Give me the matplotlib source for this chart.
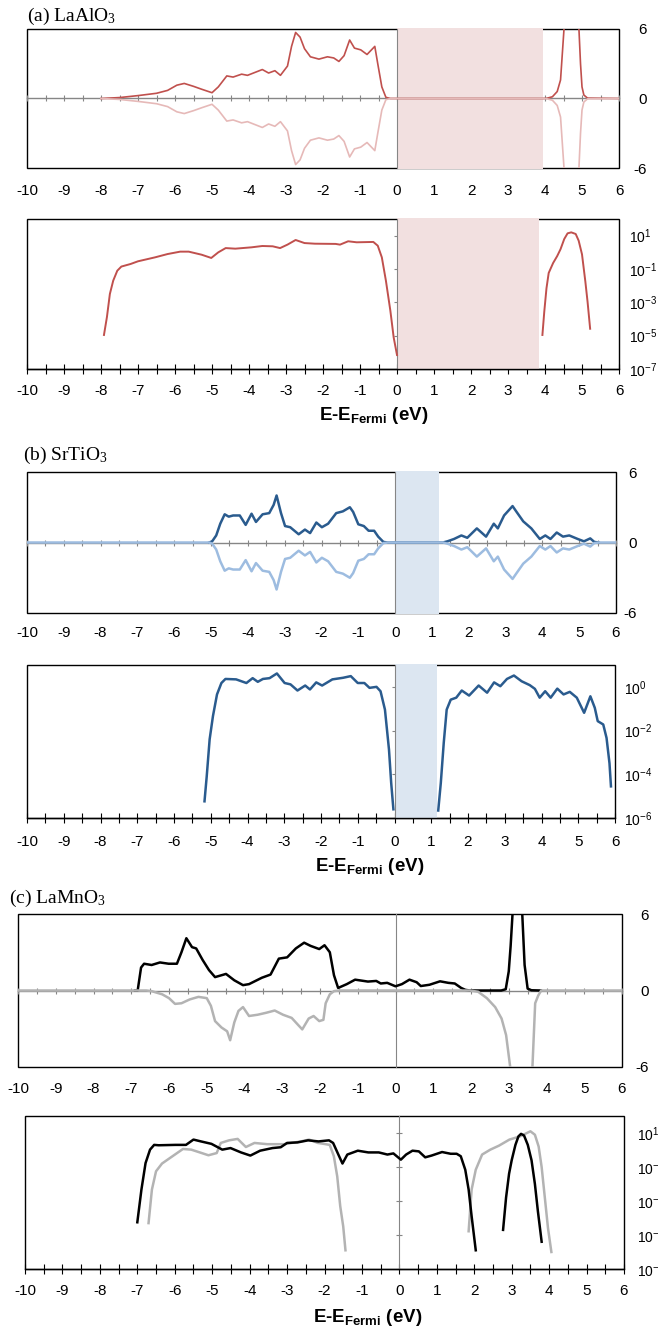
import matplotlib
matplotlib.use('Agg')
import matplotlib.pyplot as plt
from matplotlib.ticker import MultipleLocator, NullLocator
from matplotlib.patches import Rectangle

plt.rcParams['font.family'] = ['Liberation Sans', 'DejaVu Sans']
plt.rcParams['axes.unicode_minus'] = False
plt.rcParams['mathtext.default'] = 'regular'

# ---------------- data ----------------
xtick_vals = [-10, -9, -8, -7, -6, -5, -4, -3, -2, -1, 0, 1, 2, 3, 4, 5, 6]
xtick_labels = ['-10', '-9', '-8', '-7', '-6', '-5', '-4', '-3', '-2', '-1',
                '0', '1', '2', '3', '4', '5', '6']
lin_yticks = [-6, 0, 6]
lin_ylabels = ['-6', '0', '6']
log_yticks_a = [1e1, 1e-1, 1e-3, 1e-5, 1e-7]
log_ylabels_a = [r'$10^{1}$', r'$10^{-1}$', r'$10^{-3}$', r'$10^{-5}$', r'$10^{-7}$']
log_yticks_b = [1e0, 1e-2, 1e-4, 1e-6]
log_ylabels_b = [r'$10^{0}$', r'$10^{-2}$', r'$10^{-4}$', r'$10^{-6}$']

# (a) LaAlO3 linear
la_E = [-8.0, -7.5, -7.0, -6.5, -6.2, -5.95, -5.75, -5.5, -5.28, -5.0,
        -4.83, -4.6, -4.43, -4.2, -4.04, -3.8, -3.64, -3.47, -3.3, -3.15,
        -2.96, -2.85, -2.74, -2.62, -2.5, -2.34, -2.11, -1.88, -1.71, -1.57,
        -1.43, -1.28, -1.15, -0.98, -0.81, -0.6, -0.52, -0.41, -0.3, -0.18,
        0.0, 3.95, 4.05, 4.2, 4.33, 4.42, 4.52, 4.61, 4.71, 4.83,
        4.91, 4.96, 5.0, 5.05, 5.15, 6.0]
la_up = [0.0, 0.08, 0.25, 0.45, 0.7, 1.15, 1.3, 1.05, 0.8, 0.5,
         1.0, 1.95, 1.85, 2.1, 2.0, 2.3, 2.5, 2.2, 2.4, 2.0,
         2.8, 4.5, 5.7, 5.3, 4.3, 3.6, 3.4, 3.6, 3.5, 3.2,
         3.7, 5.05, 4.35, 4.2, 3.8, 4.5, 3.0, 1.0, 0.1, 0.0,
         0.0, 0.0, 0.02, 0.15, 0.6, 1.6, 6.3, 13.8, 15.8, 12.6,
         6.5, 3.0, 1.0, 0.3, 0.03, 0.0]
la_dn = [-0.0, -0.08, -0.25, -0.45, -0.7, -1.15, -1.3, -1.05, -0.8, -0.5,
         -1.0, -1.95, -1.85, -2.1, -2.0, -2.3, -2.5, -2.2, -2.4, -2.0,
         -2.8, -4.5, -5.7, -5.3, -4.3, -3.6, -3.4, -3.6, -3.5, -3.2,
         -3.7, -5.05, -4.35, -4.2, -3.8, -4.5, -3.0, -1.0, -0.1, -0.0,
         -0.0, -0.0, -0.02, -0.15, -0.6, -1.6, -6.3, -13.8, -15.8, -12.6,
         -6.5, -3.0, -1.0, -0.3, -0.03, -0.0]
la_gap = [0.0, 3.95]

# (a) LaAlO3 log
la_log1_E = [-7.92, -7.84, -7.76, -7.67, -7.56, -7.45, -7.2, -7.0, -6.54, -6.2,
             -5.86, -5.63, -5.28, -5.02, -4.83, -4.63, -4.37, -3.93, -3.64, -3.36,
             -3.16, -2.96, -2.74, -2.5, -2.22, -1.66, -1.54, -1.32, -1.09, -0.64,
             -0.52, -0.41, -0.3, -0.18, -0.09, 0.0]
la_log1_v = [1.1e-5, 1.3e-4, 3.2e-3, 0.02, 0.079, 0.14, 0.2, 0.29, 0.5, 0.79,
             1.1, 1.1, 0.72, 0.46, 1.0, 1.8, 1.66, 2.0, 2.4, 2.3,
             1.8, 2.9, 5.5, 3.6, 3.3, 3.2, 2.9, 4.6, 4.0, 4.2,
             2.5, 0.5, 0.02, 3.2e-4, 7.9e-6, 6.9e-7]
la_log2_E = [3.93, 3.98, 4.04, 4.1, 4.22, 4.33, 4.42, 4.52, 4.61, 4.71,
             4.83, 4.91, 5.0, 5.09, 5.15, 5.22]
la_log2_v = [1.1e-5, 2.7e-4, 7e-3, 0.058, 0.23, 0.6, 1.55, 6.3, 13.8, 15.8,
             12.6, 5.0, 0.76, 0.018, 1.1e-3, 2.6e-5]
la_log_gap = [0.0, 3.84]

# (b) SrTiO3 linear
st_up_E = [-5.05, -4.97, -4.86, -4.75, -4.63, -4.52, -4.4, -4.22, -4.06, -3.9,
           -3.78, -3.6, -3.42, -3.3, -3.22, -3.1, -2.99, -2.85, -2.62, -2.45,
           -2.31, -2.14, -1.99, -1.82, -1.6, -1.42, -1.23, -1.14, -1.0, -0.85,
           -0.72, -0.57, -0.46, -0.32, -0.2, 1.3, 1.42, 1.6, 1.8, 1.96,
           2.22, 2.47, 2.68, 2.79, 2.96, 3.19, 3.3, 3.48, 3.7, 3.93,
           4.08, 4.22, 4.39, 4.56, 4.73, 4.96, 5.13, 5.3, 5.41, 5.53]
st_up = [0, 0.1, 0.6, 1.6, 2.4, 2.2, 2.3, 2.3, 1.5, 2.45,
         1.75, 2.4, 2.5, 3.2, 4.0, 2.5, 1.4, 1.3, 0.7, 1.1,
         0.8, 1.7, 1.3, 1.6, 2.5, 2.65, 3.0, 2.6, 1.55, 1.4,
         1.0, 1.0, 0.5, 0.05, 0, 0, 0.1, 0.3, 0.6, 0.4,
         1.2, 0.5, 1.6, 1.2, 2.3, 3.1, 2.6, 1.8, 1.2, 0.3,
         0.6, 0.3, 0.85, 0.5, 0.6, 0.3, 0.1, 0.35, 0.05, 0]
st_dn_E = [-10.0, -5.05, -4.97, -4.86, -4.75, -4.63, -4.52, -4.4, -4.22, -4.06, -3.9,
           -3.78, -3.6, -3.42, -3.3, -3.22, -3.1, -2.99, -2.85, -2.62, -2.45,
           -2.31, -2.14, -1.99, -1.82, -1.6, -1.42, -1.23, -1.14, -1.0, -0.85,
           -0.72, -0.57, -0.46, -0.32, -0.2, 1.3, 1.42, 1.6, 1.8, 1.96,
           2.22, 2.47, 2.68, 2.79, 2.96, 3.19, 3.3, 3.48, 3.7, 3.93,
           4.08, 4.22, 4.39, 4.56, 4.73, 4.96, 5.13, 5.3, 5.41, 5.53, 6.0]
st_dn = [0, 0, -0.1, -0.6, -1.6, -2.4, -2.2, -2.3, -2.3, -1.5, -2.45,
         -1.75, -2.4, -2.5, -3.2, -4.0, -2.5, -1.4, -1.3, -0.7, -1.1,
         -0.8, -1.7, -1.3, -1.6, -2.5, -2.65, -3.0, -2.6, -1.55, -1.4,
         -1.0, -1.0, -0.5, -0.05, 0, 0, -0.1, -0.3, -0.6, -0.4,
         -1.2, -0.5, -1.6, -1.2, -2.3, -3.1, -2.6, -1.8, -1.2, -0.3,
         -0.6, -0.3, -0.85, -0.5, -0.6, -0.3, -0.1, -0.35, -0.05, 0, 0]
st_gap = [0.0, 1.19]

# (b) SrTiO3 log
st_log1_E = [-5.17, -5.11, -5.03, -4.94, -4.83, -4.71, -4.6, -4.31, -4.03, -3.86,
             -3.72, -3.58, -3.4, -3.2, -2.99, -2.83, -2.64, -2.43, -2.3, -2.13,
             -1.97, -1.69, -1.4, -1.19, -1.0, -0.82, -0.68, -0.49, -0.38, -0.26,
             -0.15, -0.09, -0.03]
st_log1_v = [5.8e-6, 7.9e-5, 4e-3, 0.046, 0.45, 1.5, 2.3, 2.2, 1.5, 2.5,
             1.7, 2.3, 2.5, 4.1, 1.5, 1.3, 0.68, 1.15, 0.76, 1.6,
             1.15, 2.2, 2.6, 3.1, 1.5, 1.5, 0.9, 1.0, 0.63, 0.091,
             1.35e-3, 4e-5, 2.5e-6]
st_log2_E = [1.19, 1.26, 1.34, 1.42, 1.53, 1.68, 1.83, 2.03, 2.29, 2.52,
             2.71, 2.88, 3.06, 3.25, 3.46, 3.68, 3.82, 3.95, 4.1, 4.25,
             4.43, 4.6, 4.77, 4.96, 5.16, 5.33, 5.45, 5.53, 5.68, 5.77,
             5.85, 5.89]
st_log2_v = [2.2e-6, 4e-5, 2.75e-3, 0.091, 0.26, 0.32, 0.68, 0.4, 1.15, 0.54,
             1.6, 1.07, 2.3, 3.3, 1.8, 1.2, 0.81, 0.32, 0.63, 0.32,
             0.83, 0.45, 0.59, 0.32, 0.065, 0.37, 0.11, 0.027, 0.019, 4.6e-3,
             3.2e-4, 2.8e-5]
st_log_gap = [0.0, 1.15]

# (c) LaMnO3 linear
lm_up_E = [-6.9, -6.83, -6.74, -6.66, -6.46, -6.24, -6.01, -5.79, -5.67, -5.54,
           -5.39, -5.28, -5.11, -4.94, -4.78, -4.49, -4.27, -4.04, -3.88, -3.54,
           -3.31, -3.09, -2.87, -2.64, -2.42, -2.25, -2.02, -1.88, -1.74, -1.63,
           -1.52, -1.29, -1.07, -0.73, -0.51, -0.39, -0.22, 0.0, 0.17, 0.37,
           0.56, 0.67, 0.9, 1.18, 1.4, 1.57, 1.74, 1.85, 1.97, 2.8,
           2.92, 3.0, 3.05, 3.11, 3.2, 3.28, 3.35, 3.42, 3.5, 3.6, 3.85]
lm_up = [0, 0, 1.8, 2.1, 2.0, 2.2, 2.1, 2.1, 3.0, 4.1,
         3.4, 3.3, 2.4, 1.6, 1.05, 1.3, 0.8, 0.42, 0.5, 1.0,
         1.25, 2.5, 2.6, 3.3, 3.75, 3.5, 3.25, 3.55, 3.0, 1.2,
         0.2, 0.5, 0.85, 0.7, 0.75, 0.55, 0.6, 0.33, 0.5, 0.85,
         0.65, 0.35, 0.45, 0.72, 0.6, 0.55, 0.2, 0.05, 0, 0,
         0.1, 1.5, 3.5, 6.5, 10.0, 10.5, 6.5, 2.0, 0.15, 0.02, 0]
lm_dn_E = [-10.0, -6.6, -6.46, -6.18, -6.0, -5.84, -5.67, -5.45, -5.22, -5.0,
           -4.89, -4.78, -4.61, -4.46, -4.38, -4.27, -4.16, -4.04, -3.88, -3.65,
           -3.43, -3.2, -2.98, -2.75, -2.58, -2.47, -2.3, -2.17, -2.02, -1.91,
           -1.85, -1.74, -1.63, -1.5, 1.97, 2.19, 2.42, 2.64, 2.81, 2.93,
           3.06, 3.2, 3.4, 3.55, 3.62, 3.7, 3.78, 3.86, 6.0]
lm_dn = [0, 0, -0.05, -0.3, -0.6, -1.05, -1.0, -0.7, -0.5, -0.6,
         -1.2, -2.4, -2.9, -3.2, -3.9, -2.5, -1.6, -1.3, -2.0, -1.9,
         -1.75, -1.57, -1.9, -2.15, -2.7, -3.05, -2.2, -2.0, -2.4, -2.3,
         -1.0, -0.3, -0.05, 0, 0, -0.1, -0.6, -1.3, -2.2, -3.5,
         -6.5, -10.0, -12.0, -10.0, -6.5, -1.0, -0.4, 0, 0]

# (c) LaMnO3 log
lm_up_log1_E = [-7.0, -6.89, -6.78, -6.66, -6.55, -6.43, -5.98, -5.7, -5.5, -5.3,
                -5.02, -4.73, -4.51, -4.23, -3.98, -3.72, -3.39, -3.17, -3.0, -2.72,
                -2.44, -2.16, -1.88, -1.77, -1.63, -1.52, -1.39, -1.11, -0.83, -0.55,
                -0.32, -0.16, 0.04, 0.18, 0.35, 0.52, 0.69, 0.86, 1.14, 1.37,
                1.53, 1.64, 1.76, 1.85, 1.93, 2.04]
lm_up_log1_v = [5.6e-5, 4.7e-3, 0.17, 1.05, 2.0, 1.9, 2.0, 2.0, 4.1, 3.2,
                2.3, 1.05, 1.3, 0.72, 0.47, 0.91, 1.3, 1.45, 2.6, 2.8,
                3.7, 3.2, 3.7, 2.6, 0.54, 0.16, 0.54, 0.91, 0.72, 0.72,
                0.54, 0.63, 0.27, 0.54, 0.91, 0.83, 0.37, 0.47, 0.76, 0.6,
                0.6, 0.43, 0.069, 4.7e-3, 1.26e-4, 1.26e-6]
lm_up_log2_E = [2.77, 2.85, 2.93, 3.0, 3.1, 3.18, 3.25, 3.33, 3.43, 3.53,
                3.62, 3.7, 3.8]
lm_up_log2_v = [2e-5, 1.6e-3, 0.04, 0.25, 2.0, 6.3, 8.9, 7.1, 2.0, 0.25,
                0.01, 2.5e-4, 4e-6]
lm_dn_log1_E = [-6.7, -6.61, -6.5, -6.34, -6.06, -5.78, -5.56, -5.33, -5.1, -4.88,
                -4.77, -4.55, -4.32, -4.1, -3.87, -3.53, -3.08, -2.63, -2.41, -2.18,
                -2.02, -1.86, -1.75, -1.66, -1.58, -1.5, -1.44]
lm_dn_log1_v = [5e-5, 4.7e-3, 0.056, 0.16, 0.43, 1.15, 1.05, 0.72, 0.49, 0.66,
                2.6, 3.7, 4.5, 1.5, 2.6, 2.2, 2.2, 3.2, 4.1, 2.6,
                2.3, 2.0, 0.43, 0.028, 5e-4, 3.2e-5, 1.26e-6]
lm_dn_log2_E = [1.85, 1.93, 2.04, 2.21, 2.43, 2.66, 2.94, 3.22, 3.5, 3.62,
                3.72, 3.8, 3.89, 3.97, 4.06]
lm_dn_log2_v = [1.66e-5, 4.7e-3, 0.069, 0.54, 1.05, 1.8, 4.1, 6.3, 12.6, 7.9,
                1.6, 0.1, 1.26e-3, 2.5e-5, 1e-6]

# ---------------- styling ----------------
GRAY = '#868686'
RED, PINK, RED_SHADE = '#c0504d', '#e6b9b8', '#f2e0e0'
BLUE, LBLUE, BLUE_SHADE = '#2a5b8e', '#9dbce0', '#dce6f1'
BLACK, LGRAY = '#000000', '#b3b3b3'

W, H = 658, 1327
fig = plt.figure(figsize=(W / 100, H / 100), dpi=100)


def px_axes(l, t, r, b):
    return fig.add_axes([l / W, 1 - b / H, (r - l) / W, (b - t) / H])


def box(ax):
    ax.add_patch(Rectangle((0, 0), 1, 1, transform=ax.transAxes, fill=False,
                           ec='black', lw=1.0, zorder=1.5, clip_on=False))


def shade(ax, span, color):
    ax.axvspan(span[0], span[1], ymin=-0.005, ymax=1.005, color=color,
               lw=0, zorder=2, clip_on=False)


def setup_linear(ax, xpad, ypad):
    ax.set_xlim(-10, 6)
    ax.set_ylim(-6, 6)
    for s in ['right', 'bottom']:
        ax.spines[s].set_visible(False)
    ax.spines['top'].set_position(('data', 0))
    ax.spines['top'].set_color(GRAY)
    ax.spines['top'].set_linewidth(1.0)
    ax.spines['left'].set_position(('data', 0))
    ax.spines['left'].set_color(GRAY)
    ax.spines['left'].set_linewidth(0.8)
    box(ax)
    ax.set_xticks(xtick_vals, labels=xtick_labels)
    ax.xaxis.set_minor_locator(MultipleLocator(0.5))
    ax.tick_params(axis='x', which='both', bottom=False, top=True,
                   labelbottom=True, labeltop=False, direction='inout',
                   length=5, width=0.8, color=GRAY, labelsize=11, pad=xpad)
    ax.set_yticks(lin_yticks, labels=lin_ylabels)
    ax.tick_params(axis='y', left=False, right=False, labelleft=False,
                   labelright=True, length=0, labelsize=11, pad=ypad)


def setup_log(ax, ylo, yhi, yticks, ylabels, xpad, ypad):
    ax.set_yscale('log')
    ax.set_xlim(-10, 6)
    ax.set_ylim(ylo, yhi)
    for s in ['right', 'top']:
        ax.spines[s].set_visible(False)
    ax.spines['bottom'].set_color('black')
    ax.spines['bottom'].set_linewidth(1.0)
    ax.spines['left'].set_position(('data', 0))
    ax.spines['left'].set_color(GRAY)
    ax.spines['left'].set_linewidth(0.8)
    box(ax)
    ax.set_xticks(xtick_vals, labels=xtick_labels)
    ax.xaxis.set_minor_locator(MultipleLocator(0.5))
    ax.tick_params(axis='x', which='both', bottom=True, top=False,
                   direction='inout', length=7, width=0.8, color='black',
                   labelsize=11, pad=xpad)
    ax.set_yticks(yticks, labels=ylabels)
    ax.yaxis.set_minor_locator(NullLocator())
    ax.tick_params(axis='y', which='major', left=True, right=False,
                   labelleft=False, labelright=True, direction='inout',
                   length=5, width=0.8, color=GRAY, labelsize=10, pad=ypad)


def xlabel(x, y):
    fig.text(x / W, 1 - y / H, r'E-E$_{\mathregular{Fermi}}$ (eV)',
             ha='center', va='baseline', fontsize=13.5, fontweight='bold')


def title(x, y, s):
    fig.text(x / W, 1 - y / H, s, ha='left', va='baseline', fontsize=14,
             family=['Liberation Serif', 'DejaVu Serif'])


# ---- (a) LaAlO3 ----
title(27, 21, r'(a) LaAlO$_{\mathregular{3}}$')
a1 = px_axes(27, 29, 619, 168)
setup_linear(a1, 9, 20)
shade(a1, la_gap, RED_SHADE)
a1.plot(la_E, la_up, color=RED, lw=1.2, zorder=3)
a1.plot(la_E, la_dn, color=PINK, lw=1.2, zorder=3)

a2 = px_axes(27, 219, 619, 369)
setup_log(a2, 1e-7, 1e2, log_yticks_a, log_ylabels_a, 7.5, 5)
shade(a2, la_log_gap, RED_SHADE)
a2.plot(la_log1_E, la_log1_v, color=RED, lw=1.4, zorder=3)
a2.plot(la_log2_E, la_log2_v, color=RED, lw=1.4, zorder=3)
xlabel(374, 420)

# ---- (b) SrTiO3 ----
title(23, 460, r'(b) SrTiO$_{\mathregular{3}}$')
b1 = px_axes(27, 472, 616, 613)
setup_linear(b1, 7, 15)
shade(b1, st_gap, BLUE_SHADE)
b1.plot(st_up_E, st_up, color=BLUE, lw=1.8, zorder=3)
b1.plot(st_dn_E, st_dn, color=LBLUE, lw=1.8, zorder=3)

b2 = px_axes(27, 665, 615, 818)
setup_log(b2, 1e-6, 1e1, log_yticks_b, log_ylabels_b, 9, 4)
shade(b2, st_log_gap, BLUE_SHADE)
b2.plot(st_log1_E, st_log1_v, color=BLUE, lw=1.8, zorder=3)
b2.plot(st_log2_E, st_log2_v, color=BLUE, lw=1.8, zorder=3)
xlabel(370, 871)

# ---- (c) LaMnO3 ----
title(9, 903, r'(c) LaMnO$_{\mathregular{3}}$')
c1 = px_axes(18, 914, 622, 1067)
setup_linear(c1, 8, 19)
c1.plot(lm_up_E, lm_up, color=BLACK, lw=1.8, zorder=3)
c1.plot(lm_dn_E, lm_dn, color=LGRAY, lw=1.8, zorder=3)

c2 = px_axes(25, 1116, 624, 1269)
setup_log(c2, 1e-7, 1e2, log_yticks_a, log_ylabels_a, 7, 7)
c2.plot(lm_dn_log1_E, lm_dn_log1_v, color=LGRAY, lw=1.8, zorder=3)
c2.plot(lm_dn_log2_E, lm_dn_log2_v, color=LGRAY, lw=1.8, zorder=3)
c2.plot(lm_up_log1_E, lm_up_log1_v, color=BLACK, lw=1.8, zorder=3)
c2.plot(lm_up_log2_E, lm_up_log2_v, color=BLACK, lw=1.8, zorder=3)
xlabel(368, 1322)

for ax in (a1, b1, c1):
    for lbl in ax.get_yticklabels():
        lbl.set_horizontalalignment('right')

fig.savefig('out.png', dpi=100)
